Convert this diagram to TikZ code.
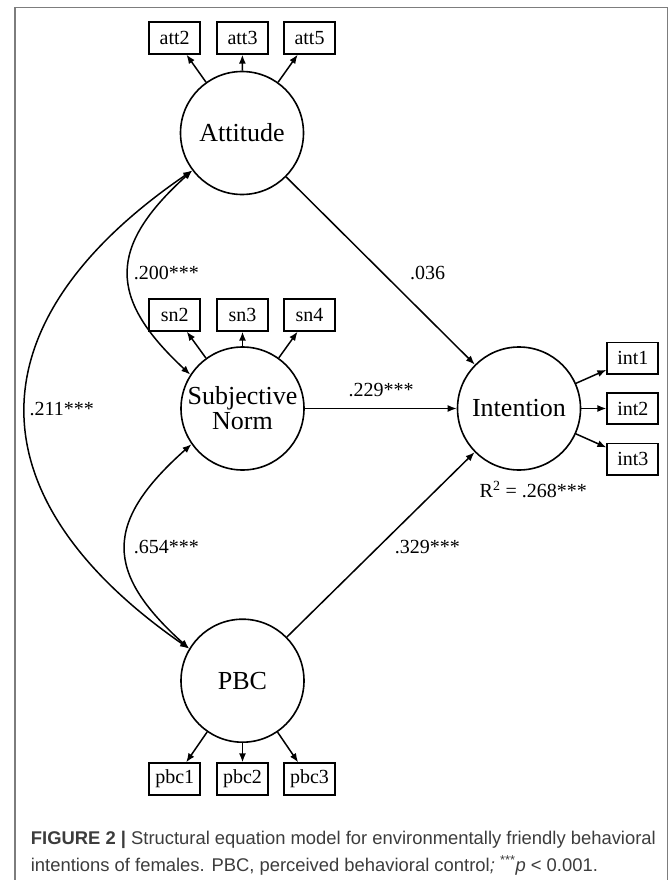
\documentclass[tikz,border=0pt]{standalone}
\usepackage{fontspec}
\setmainfont{Liberation Serif}
\newfontfamily\capfont{Liberation Sans}
\usetikzlibrary{arrows.meta}
\definecolor{framegray}{RGB}{125,125,125}
\definecolor{capgray}{RGB}{60,60,60}
\begin{document}
\begin{tikzpicture}[x=1pt,y=-1pt,
  latent/.style={circle,draw,line width=1.6pt,minimum size=123pt,inner sep=0pt,
    font=\fontsize{26}{25}\selectfont,align=center},
  obs/.style={rectangle,draw,line width=1.8pt,minimum width=51pt,minimum height=31.5pt,
    inner sep=0pt,font=\fontsize{20}{24}\selectfont},
  conn/.style={-{Latex[length=9pt,width=7pt]},line width=1.5pt},
  cov/.style={{Latex[length=9pt,width=7pt]}-{Latex[length=9pt,width=7pt]},line width=1.5pt},
  lbl/.style={font=\fontsize{20}{24}\selectfont,inner sep=0pt},
  captxt/.style={font=\capfont\fontsize{18.4}{28}\selectfont,text=capgray,inner sep=0pt,anchor=base west}
]
\useasboundingbox (0,0) rectangle (671,880);
% frame
\draw[framegray,line width=1.2pt] (15,882) -- (15,7.3) -- (667.7,7.3) -- (667.7,882);

% latent variables
\node[latent] (att) at (242,133) {Attitude};
\node[latent] (sn) at (242.5,408.5) {Subjective\\Norm};
\node[latent] (pbc) at (242.5,680.7) {PBC};
\node[latent] (int) at (519,408.5) {Intention};

% indicators
\node[obs] (att2) at (174.7,38) {att2};
\node[obs] (att3) at (242.5,38) {att3};
\node[obs] (att5) at (309.5,38) {att5};
\node[obs] (sn2) at (174.7,315) {sn2};
\node[obs] (sn3) at (242.5,315) {sn3};
\node[obs] (sn4) at (309.5,315) {sn4};
\node[obs] (pbc1) at (174.7,779) {pbc1};
\node[obs] (pbc2) at (242.5,779) {pbc2};
\node[obs] (pbc3) at (309.5,779) {pbc3};
\node[obs] (int1) at (632.8,358.2) {int1};
\node[obs] (int2) at (632.8,408.5) {int2};
\node[obs] (int3) at (632.8,459.2) {int3};

% loadings
\foreach \f/\i in {att/att2,att/att3,att/att5,sn/sn2,sn/sn3,sn/sn4,pbc/pbc1,pbc/pbc2,pbc/pbc3,int/int1,int/int2,int/int3}
  \draw[conn] (\f) -- (\i);

% structural paths
\draw[conn] (att) -- (int);
\draw[conn] (sn) -- (int);
\draw[conn] (pbc) -- (int);

% covariances
\draw[cov] (att.217) .. controls (107.7,247) and (107.7,298) .. (sn.147);
\draw[cov] (att.217) .. controls (-29.5,322) and (-29.5,497) .. (pbc.149);
\draw[cov] (sn.215) .. controls (104,522) and (104,572) .. (pbc.149);

% labels
\node[lbl] (l200) at (166.3,272.7) {.200***};
\node[lbl] (l211) at (61.8,409.3) {.211***};
\node[lbl] (l654) at (166.3,546.7) {.654***};
\node[lbl] (l036) at (427.5,272.5) {.036};
\node[lbl] (l229) at (381,390) {.229***};
\node[lbl] (l329) at (427.3,546.7) {.329***};
\node[lbl] (r2) at (533.3,489.3) {R\textsuperscript{2} = .268***};

% caption
\node[captxt] (cap1) at (30.7,844) {\textbf{FIGURE 2 |} Structural equation model for environmentally friendly behavioral};
\node[captxt] (cap2) at (30.7,871) {intentions of females. PBC, perceived behavioral control\textit{;} \textsuperscript{***}\textit{p} < 0.001.};
\end{tikzpicture}
\end{document}
